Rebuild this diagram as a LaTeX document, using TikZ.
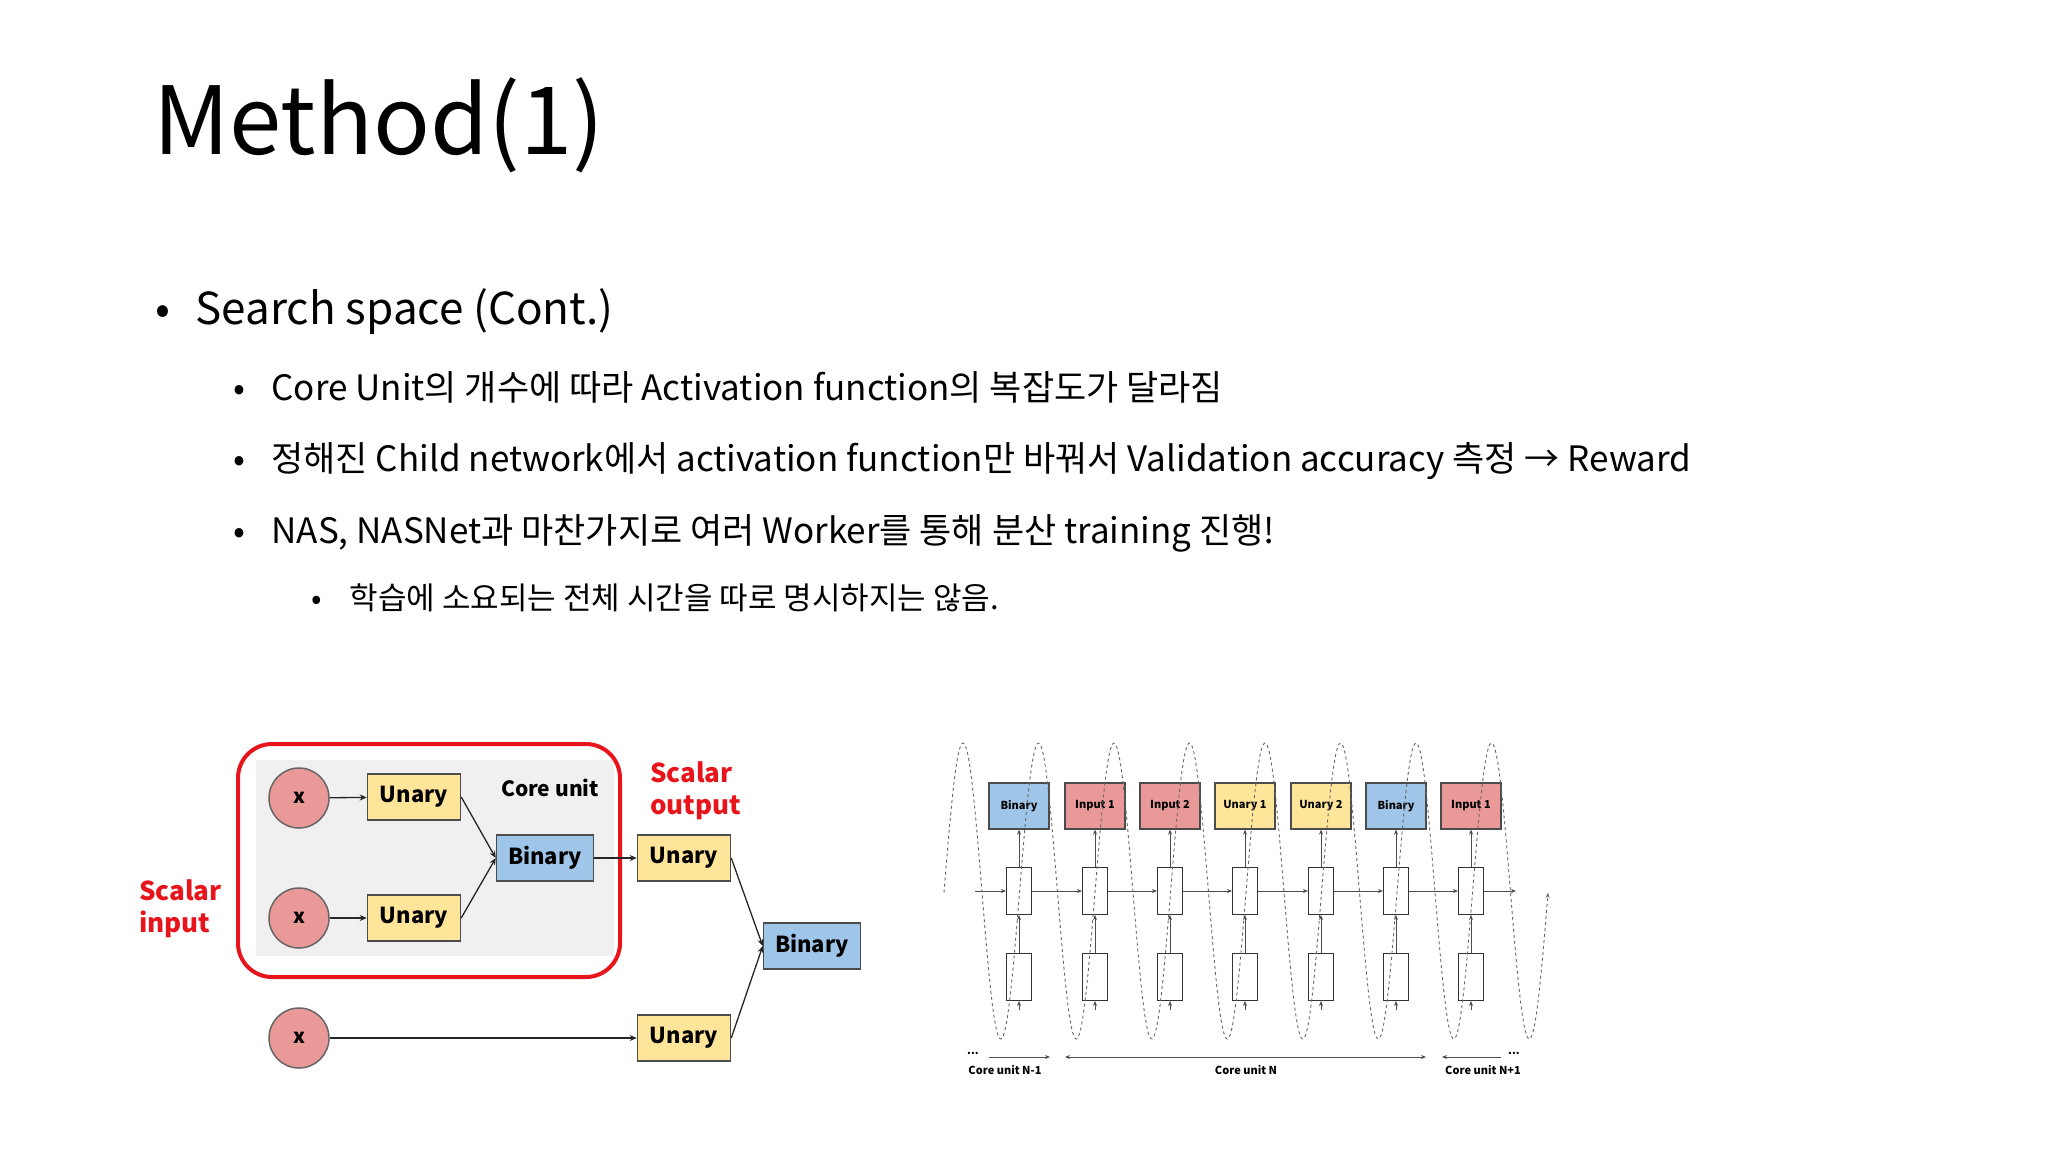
\documentclass[tikz,border=0pt]{standalone}
\usepackage{fontspec}
\setmainfont{Noto Sans CJK KR}
\usetikzlibrary{arrows.meta}
\definecolor{xred}{HTML}{EA9999}
\definecolor{uyel}{HTML}{FFE599}
\definecolor{bblue}{HTML}{9FC5E8}
\definecolor{ired}{HTML}{EA9999}
\definecolor{redl}{HTML}{E8141B}
\tikzset{
  xc/.style={circle,draw=gray!80!black,fill=xred,minimum size=60pt,inner sep=0pt,line width=1.5pt,font=\fontsize{20}{20}\selectfont\bfseries},
  ubox/.style={draw=gray!60!black,fill=uyel,minimum width=93pt,minimum height=46pt,line width=1.5pt,font=\fontsize{22}{22}\selectfont\bfseries},
  bbox/.style={ubox,fill=bblue,minimum width=97pt},
  sbox/.style={draw=gray!60!black,line width=1.3pt,minimum width=60pt,minimum height=46pt,inner sep=0pt,font=\fontsize{11}{11}\selectfont\bfseries},
  cell/.style={draw=black!80,line width=1pt,fill=white,minimum width=25pt,minimum height=47pt,inner sep=0pt},
  arr/.style={-{Stealth[length=7pt,width=6pt]},line width=1.3pt,black!85},
  sarr/.style={-{Stealth[length=5pt,width=4pt]},line width=0.8pt,black!70},
  bul/.style={anchor=base west},
}
\begin{document}
\begin{tikzpicture}[x=1pt,y=-1pt]
\useasboundingbox[fill=white] (0,0) rectangle (2048,1152);
% title and bullets
\node[bul,font=\fontsize{94}{94}\selectfont] (title) at (150,154) {Method(1)};
\node[bul,font=\fontsize{44}{44}\selectfont] (b1d) at (152,324) {•};
\node[bul,font=\fontsize{44}{44}\selectfont] (b1) at (192,324) {Search space (Cont.)};
\foreach \yy/\tt/\nm in {400/{Core Unit의 개수에 따라 Activation function의 복잡도가 달라짐}/b2,
  471/{정해진 Child network에서 activation function만 바꿔서 Validation accuracy 측정 → Reward}/b3,
  543/{NAS, NASNet과 마찬가지로 여러 Worker를 통해 분산 training 진행!}/b4}{
  \node[bul,font=\fontsize{35}{35}\selectfont] (\nm d) at (230,\yy) {•};
  \node[bul,font=\fontsize{35}{35}\selectfont] (\nm) at (268,\yy) {\tt};
}
\node[bul,font=\fontsize{31}{31}\selectfont] (b5d) at (308,609) {•};
\node[bul,font=\fontsize{31}{31}\selectfont] (b5) at (346,609) {학습에 소요되는 전체 시간을 따로 명시하지는 않음.};
% left diagram
\fill[black!6] (256,760) rectangle (614,956);
\draw[redl,line width=4pt,rounded corners=34pt] (238,744) rectangle (620,977);
\node[xc] (x1) at (299,798) {x};
\node[xc] (x2) at (299,918) {x};
\node[xc] (x3) at (299,1038) {x};
\node[ubox] (u1) at (414,797) {Unary};
\node[ubox] (u2) at (414,918) {Unary};
\node[bbox] (bi) at (545,858) {Binary};
\node[ubox] (u3) at (684,858) {Unary};
\node[bbox] (bo) at (812,946) {Binary};
\node[ubox] (u4) at (684,1038) {Unary};
\node[font=\fontsize{21}{21}\selectfont\bfseries] (cu) at (550,788) {Core unit};
\node[align=left,anchor=north west,text=redl,font=\fontsize{26}{32}\selectfont\bfseries,inner sep=0pt] (so) at (650,762) {Scalar\\output};
\node[align=left,anchor=north west,text=redl,font=\fontsize{26}{32}\selectfont\bfseries,inner sep=0pt] (si) at (139,880) {Scalar\\input};
\draw[arr] (x1) -- (u1);
\draw[arr] (x2) -- (u2);
\draw[arr] (x3) -- (u4);
\draw[arr] (u1.east) -- (bi.west);
\draw[arr] (u2.east) -- (bi.west);
\draw[arr] (bi) -- (u3);
\draw[arr] (u3.east) -- (bo.west);
\draw[arr] (u4.east) -- (bo.west);
% right diagram
\foreach \i/\xx/\lab/\col in {1/1019/Binary/bblue,2/1095/Input 1/ired,3/1170/Input 2/ired,4/1245/Unary 1/uyel,5/1321/Unary 2/uyel,6/1396/Binary/bblue,7/1471/Input 1/ired}{
  \node[sbox,fill=\col] (t\i) at (\xx,806) {\lab};
  \node[cell] (m\i) at (\xx,891) {};
  \node[cell] (l\i) at (\xx,977) {};
  \coordinate (q\i) at (\xx,1010);
  \draw[sarr] (l\i) -- (m\i);
  \draw[sarr] (m\i) -- (t\i);
  \draw[sarr] (q\i) -- (l\i);
}
\coordinate (hs) at (975,891);
\coordinate (he) at (1516,891);
\draw[sarr] (hs) -- (m1);
\foreach \a/\b in {1/2,2/3,3/4,4/5,5/6,6/7}{\draw[sarr] (m\a) -- (m\b);}
\draw[sarr] (m7) -- (he);
\draw[dashed,black!60,line width=0.9pt,-{Stealth[length=5pt,width=4pt]}] plot[domain=944:1548,samples=500,smooth] (\x,{891-148*cos(4.768*(\x-963))});
% bottom labels
\coordinate (a1) at (989,1057); \coordinate (a2) at (1050,1057);
\coordinate (a3) at (1065,1057); \coordinate (a4) at (1426,1057);
\coordinate (a5) at (1442,1057); \coordinate (a6) at (1501,1057);
\draw[sarr] (a1) -- (a2);
\draw[sarr,{Stealth[length=5pt,width=4pt]}-{Stealth[length=5pt,width=4pt]}] (a3) -- (a4);
\draw[sarr] (a6) -- (a5);
\node[font=\fontsize{11}{11}\selectfont\bfseries] (d1) at (973,1053) {...};
\node[font=\fontsize{11}{11}\selectfont\bfseries] (d2) at (1514,1053) {...};
\node[font=\fontsize{11}{11}\selectfont\bfseries] (c1) at (1005,1070) {Core unit N-1};
\node[font=\fontsize{11}{11}\selectfont\bfseries] (c2) at (1246,1070) {Core unit N};
\node[font=\fontsize{11}{11}\selectfont\bfseries] (c3) at (1483,1070) {Core unit N+1};
\end{tikzpicture}
\end{document}
